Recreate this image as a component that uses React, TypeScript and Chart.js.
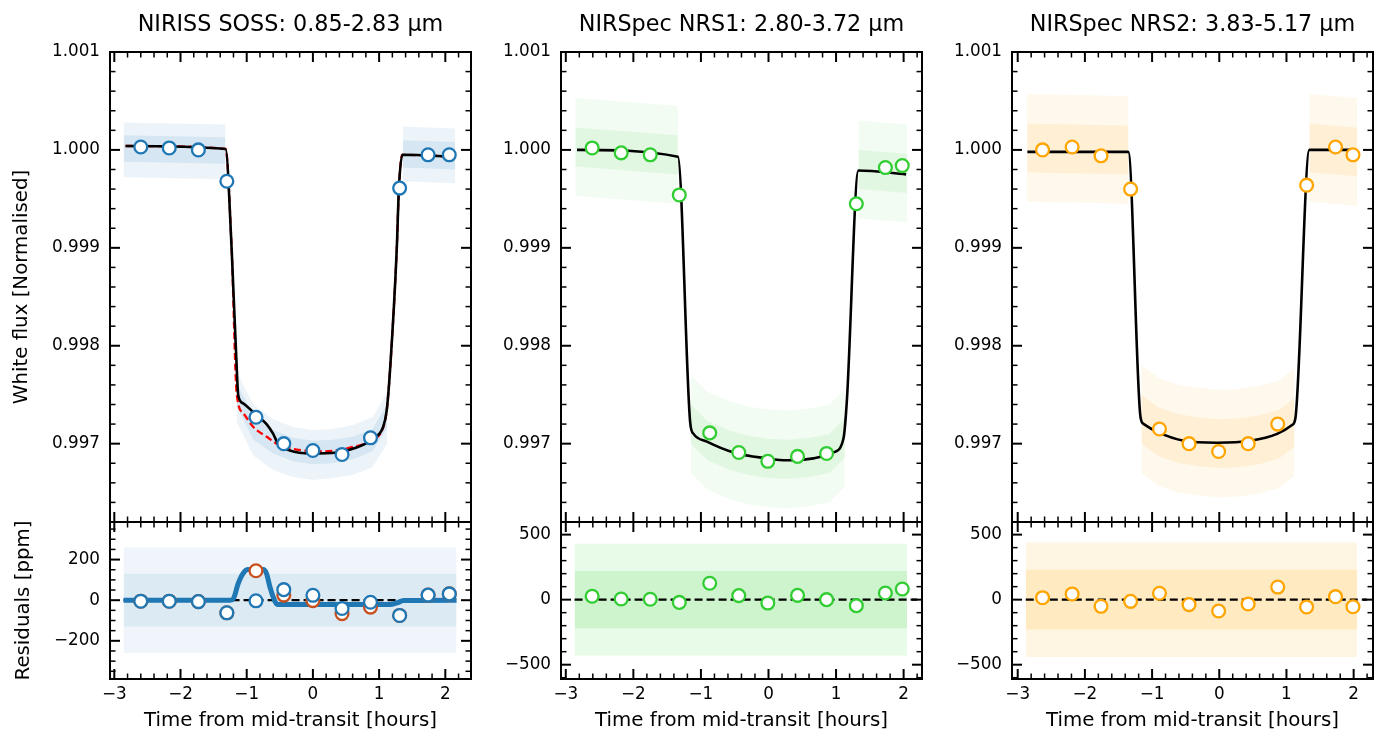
import React, { useEffect, useRef } from "react";
import { Chart, registerables } from "chart.js";

Chart.register(...registerables);

const FONT_FAMILY = '"DejaVu Sans", "Liberation Sans", sans-serif';

// ---------------- ticks & labels ----------------
const timeTicks = [-3, -2, -1, 0, 1, 2];
const fluxTicks = [0.997, 0.998, 0.999, 1.0, 1.001];
const sossResidTicks = [-200, 0, 200];
const nirspecResidTicks = [-500, 0, 500];

const panelTitles = [
  "NIRISS SOSS: 0.85-2.83 \u03bcm",
  "NIRSpec NRS1: 2.80-3.72 \u03bcm",
  "NIRSpec NRS2: 3.83-5.17 \u03bcm",
];
const fluxLabel = "White flux [Normalised]";
const residLabel = "Residuals [ppm]";
const timeLabel = "Time from mid-transit [hours]";

// ---------------- NIRISS SOSS ----------------
const sossBinTime = [-2.60, -2.17, -1.73, -1.30, -0.86, -0.44, 0.0, 0.44, 0.87, 1.31, 1.74, 2.06];
const sossBinFlux = [1.00003, 1.00002, 1.0, 0.99968, 0.99727, 0.99700, 0.99693, 0.99689, 0.99706, 0.99961, 0.99995, 0.99995];
const sossBinResid = [-5, -5, -7, -62, -3, 52, 24, -41, -10, -75, 25, 31];
const sossBinResidAlt = [-5, -5, -7, -62, 145, 25, -2, -66, -34, -75, 25, 31];

const sossModelTime = [-2.83, -1.32, -1.227, -1.14, -1.127, -1.05, -0.85, -0.70, -0.60, -0.52, -0.35, -0.04, 0.36, 0.66, 0.91, 1.06, 1.115, 1.165, 1.266, 1.30, 1.35, 2.15];
const sossModelFlux = [1.00004, 1.00001, 0.99898, 0.99761, 0.99749, 0.99741, 0.99729, 0.99720, 0.99710, 0.99699, 0.99693, 0.99690, 0.99691, 0.99696, 0.99705, 0.99717, 0.99734, 0.99775, 0.99898, 0.99962, 0.99995, 0.99993];
const sossAltModelTime = [-2.83, -1.32, -1.227, -1.151, -1.051, -0.90, -0.698, -0.497, -0.245, 0.157, 0.56, 0.863, 1.063, 1.115, 1.165, 1.266, 1.30, 1.35, 2.15];
const sossAltModelFlux = [1.00004, 1.00001, 0.99898, 0.99751, 0.99731, 0.99717, 0.99707, 0.99698, 0.99694, 0.99692, 0.99696, 0.99703, 0.99717, 0.99734, 0.99775, 0.99898, 0.99962, 0.99995, 0.99993];
const sossResidModelTime = [-2.86, -1.25, -1.20, -1.13, -1.05, -0.98, -0.75, -0.70, -0.65, -0.57, -0.53, 1.16, 1.27, 1.37, 2.17];
const sossResidModel = [0, 0, 8, 81, 134, 151, 151, 131, 66, -8, -21, -21, -13, -2, 0];
const sossZeroTime = [-2.86, 2.17];

const sossCloudTime = [-2.86, -1.32, null, -1.15, -0.9, -0.6, -0.3, 0, 0.3, 0.6, 0.9, 1.12, null, 1.36, 2.15];
const sossCloudOuterHi = [1.00028, 1.00026, null, 0.99773, 0.9974, 0.99725, 0.99717, 0.99714, 0.99715, 0.99719, 0.99727, 0.99752, null, 1.00024, 1.00022];
const sossCloudOuterLo = [0.99972, 0.9997, null, 0.99722, 0.99688, 0.99673, 0.99666, 0.99663, 0.99665, 0.99668, 0.99676, 0.997, null, 0.99968, 0.99966];
const sossCloudInnerHi = [1.00015, 1.00013, null, 0.99762, 0.99729, 0.99714, 0.99706, 0.99703, 0.99704, 0.99707, 0.99715, 0.9974, null, 1.0001, 1.00008];
const sossCloudInnerLo = [0.99988, 0.99986, null, 0.99738, 0.99704, 0.9969, 0.99682, 0.99679, 0.9968, 0.99684, 0.99692, 0.99716, null, 0.99982, 0.9998];
const sossResidCloudTime = [-2.86, 2.17];
const sossResidCloudOuterHi = [260, 260];
const sossResidCloudOuterLo = [-260, -260];
const sossResidCloudInnerHi = [130, 130];
const sossResidCloudInnerLo = [-130, -130];

// ---------------- NIRSpec NRS1 ----------------
const nrs1BinTime = [-2.61, -2.18, -1.75, -1.32, -0.87, -0.44, -0.01, 0.43, 0.86, 1.30, 1.73, 1.98];
const nrs1BinFlux = [1.00002, 0.99997, 0.99995, 0.99954, 0.99711, 0.99691, 0.99682, 0.99687, 0.9969, 0.99945, 0.99982, 0.99984];
const nrs1BinResid = [26, 5, 3, -21, 126, 31, -26, 33, 0, -46, 51, 82];
const nrs1ModelTime = [-2.834, -1.34, -1.158, -1.109, -0.911, -0.518, -0.024, 0.272, 0.666, 0.962, 1.109, 1.16, 1.331, 2.037];
const nrs1ModelFlux = [1.0, 0.99993, 0.99721, 0.9971, 0.99702, 0.99691, 0.99685, 0.99683, 0.99685, 0.99691, 0.99705, 0.99744, 0.99979, 0.99975];
const nrs1ZeroTime = [-2.87, 2.2];

const nrs1CloudTime = [-2.86, -1.34, null, -1.15, -0.9, -0.6, -0.3, 0, 0.3, 0.6, 0.9, 1.13, null, 1.33, 2.05];
const nrs1CloudOuterHi = [1.00053, 1.00045, null, 0.9977, 0.99753, 0.99744, 0.99738, 0.99735, 0.99734, 0.99736, 0.9974, 0.99756, null, 1.0003, 1.00026];
const nrs1CloudOuterLo = [0.99953, 0.99945, null, 0.9967, 0.99653, 0.99644, 0.99638, 0.99635, 0.99634, 0.99636, 0.9964, 0.99656, null, 0.9993, 0.99926];
const nrs1CloudInnerHi = [1.00023, 1.00015, null, 0.9974, 0.99723, 0.99714, 0.99708, 0.99705, 0.99704, 0.99706, 0.9971, 0.99726, null, 1.0, 0.99996];
const nrs1CloudInnerLo = [0.99983, 0.99975, null, 0.997, 0.99683, 0.99674, 0.99668, 0.99665, 0.99664, 0.99666, 0.9967, 0.99686, null, 0.9996, 0.99956];
const nrs1ResidCloudTime = [-2.87, 2.05];
const nrs1ResidCloudOuterHi = [430, 430];
const nrs1ResidCloudOuterLo = [-430, -430];
const nrs1ResidCloudInnerHi = [220, 220];
const nrs1ResidCloudInnerLo = [-220, -220];

// ---------------- NIRSpec NRS2 ----------------
const nrs2BinTime = [-2.63, -2.19, -1.76, -1.32, -0.89, -0.45, -0.01, 0.43, 0.87, 1.30, 1.73, 1.99];
const nrs2BinFlux = [1.0, 1.00003, 0.99994, 0.9996, 0.99715, 0.997, 0.99692, 0.997, 0.9972, 0.99964, 1.00003, 0.99995];
const nrs2BinResid = [15, 44, -51, -13, 49, -38, -87, -33, 97, -56, 23, -54];
const nrs2ModelTime = [-2.856, -1.354, -1.172, -1.123, -0.923, -0.528, -0.031, 0.464, 0.861, 1.084, 1.133, 1.341, 2.025];
const nrs2ModelFlux = [0.99998, 0.99998, 0.99727, 0.9972, 0.99712, 0.99703, 0.99701, 0.99703, 0.9971, 0.99719, 0.99726, 1.0, 1.0];
const nrs2ZeroTime = [-2.88, 2.2];

const nrs2CloudTime = [-2.86, -1.35, null, -1.16, -0.9, -0.6, -0.3, 0, 0.3, 0.6, 0.9, 1.12, null, 1.34, 2.05];
const nrs2CloudOuterHi = [1.00057, 1.00055, null, 0.9978, 0.99767, 0.9976, 0.99757, 0.99755, 0.99756, 0.99759, 0.99765, 0.99777, null, 1.00057, 1.00053];
const nrs2CloudOuterLo = [0.99947, 0.99945, null, 0.9967, 0.99657, 0.9965, 0.99647, 0.99645, 0.99646, 0.99649, 0.99655, 0.99667, null, 0.99947, 0.99943];
const nrs2CloudInnerHi = [1.00027, 1.00025, null, 0.9975, 0.99737, 0.9973, 0.99727, 0.99725, 0.99726, 0.99729, 0.99735, 0.99747, null, 1.00027, 1.00023];
const nrs2CloudInnerLo = [0.99977, 0.99975, null, 0.997, 0.99687, 0.9968, 0.99677, 0.99675, 0.99676, 0.99679, 0.99685, 0.99697, null, 0.99977, 0.99973];
const nrs2ResidCloudTime = [-2.88, 2.05];
const nrs2ResidCloudOuterHi = [440, 440];
const nrs2ResidCloudOuterLo = [-440, -440];
const nrs2ResidCloudInnerHi = [230, 230];
const nrs2ResidCloudInnerLo = [-230, -230];

// ---------------- styling ----------------
const SOSS = "#1f77b4";
const SOSS_ALT = "#c8501e";
const NRS1 = "#32cd32";
const NRS2 = "#ffa500";

const tickFont = { family: FONT_FAMILY, size: 16.8 };
const labelFont = { family: FONT_FAMILY, size: 19.8 };
const titleFont = { family: FONT_FAMILY, size: 22.3, weight: "normal" as const };

const plotLefts = [110, 561, 1012];
const AXIS_W = 110;
const PAD_R = 30;
const PLOT_W = 361;
const xRanges = [
  [-3.065, 2.388],
  [-3.071, 2.272],
  [-3.085, 2.288],
];
const fluxRange = [0.9962, 1.001];
const residRanges = [
  [-388, 385],
  [-610, 597],
  [-610, 597],
];

const toPts = (xs: any[], ys: any[]) => xs.map((x, i) => ({ x, y: ys[i] }));

function bandDatasets(xs: any[], lo: any[], hi: any[], color: string) {
  const out: any[] = [];
  let seg: number[] = [];
  const flush = () => {
    if (seg.length) {
      out.push({
        data: seg.map((i) => ({ x: xs[i], y: hi[i] })),
        borderColor: "transparent",
        borderWidth: 0,
        pointRadius: 0,
        fill: false,
        order: 20,
      });
      out.push({
        data: seg.map((i) => ({ x: xs[i], y: lo[i] })),
        borderColor: "transparent",
        borderWidth: 0,
        pointRadius: 0,
        fill: "-1",
        backgroundColor: color,
        order: 20,
      });
    }
    seg = [];
  };
  xs.forEach((x, i) => {
    if (x === null) flush();
    else seg.push(i);
  });
  flush();
  return out;
}

function lineDs(xs: number[], ys: number[], color: string, width: number, order: number, dash: number[] = []) {
  return {
    data: toPts(xs, ys),
    borderColor: color,
    borderWidth: width,
    borderDash: dash,
    pointRadius: 0,
    fill: false,
    cubicInterpolationMode: "monotone",
    order,
  };
}

function markerDs(xs: number[], ys: number[], color: string, order: number) {
  return {
    data: toPts(xs, ys),
    showLine: false,
    pointRadius: 6.4,
    pointBorderWidth: 2.3,
    pointBackgroundColor: "#ffffff",
    pointBorderColor: color,
    fill: false,
    order,
  };
}

const framePlugin = {
  id: "frame",
  afterDatasetsDraw(chart: any, _args: any, opts: any) {
    const { ctx, chartArea: a } = chart;
    const xs = chart.scales.x;
    const ys = chart.scales.y;
    ctx.save();
    ctx.strokeStyle = "#000";
    const seg = (x1: number, y1: number, x2: number, y2: number, w: number) => {
      ctx.lineWidth = w;
      ctx.beginPath();
      ctx.moveTo(x1, y1);
      ctx.lineTo(x2, y2);
      ctx.stroke();
    };
    const minors = (min: number, max: number, step: number, majors: number[]) => {
      const r: number[] = [];
      for (let i = Math.ceil(min / step - 1e-9); i <= Math.floor(max / step + 1e-9); i++) {
        const v = i * step;
        if (!majors.some((m) => Math.abs(m - v) < step / 10)) r.push(v);
      }
      return r;
    };
    const drawX = (vals: number[], len: number, w: number) =>
      vals.forEach((v) => {
        const p = xs.getPixelForValue(v);
        if (p < a.left + 0.5 || p > a.right - 0.5) return;
        seg(p, a.bottom, p, a.bottom - len, w);
        seg(p, a.top, p, a.top + len, w);
      });
    const drawY = (vals: number[], len: number, w: number) =>
      vals.forEach((v) => {
        const p = ys.getPixelForValue(v);
        if (p < a.top + 0.5 || p > a.bottom - 0.5) return;
        seg(a.left, p, a.left + len, p, w);
        seg(a.right, p, a.right - len, p, w);
      });
    drawX(opts.xMajor, 10, 2);
    drawX(minors(xs.min, xs.max, opts.xMinor, opts.xMajor), 5.5, 1.5);
    drawY(opts.yMajor, 10, 2);
    drawY(minors(ys.min, ys.max, opts.yMinor, opts.yMajor), 5.5, 1.5);
    ctx.lineWidth = 2;
    ctx.strokeRect(a.left, a.top, a.right - a.left, a.bottom - a.top);
    ctx.restore();
  },
};

const minusFmt = (v: number) => String(v).replace("-", "\u2212");

function makeChart(canvas: HTMLCanvasElement, p: any) {
  return new Chart(canvas, {
    type: "line",
    data: { datasets: p.datasets },
    options: {
      responsive: false,
      animation: false,
      events: [],
      layout: { padding: { top: p.padTop, bottom: p.padBottom, left: 0, right: PAD_R } },
      elements: { point: { radius: 0 } },
      plugins: {
        legend: { display: false },
        tooltip: { enabled: false },
        title: p.title
          ? {
              display: true,
              text: p.title,
              fullSize: false,
              color: "#000",
              font: titleFont,
              padding: { top: 11.5, bottom: 13.74 },
            }
          : { display: false },
        frame: { xMajor: timeTicks, xMinor: 0.2, yMajor: p.yTicks, yMinor: p.yMinor },
      } as any,
      scales: {
        x: {
          type: "linear",
          min: p.xMin,
          max: p.xMax,
          bounds: "data",
          display: p.showX,
          grid: { display: false, drawTicks: false },
          border: { display: false },
          ticks: { font: tickFont, color: "#000", padding: 6, callback: (v: any) => minusFmt(v) },
          afterBuildTicks: (s: any) => {
            s.ticks = timeTicks.map((v) => ({ value: v }));
          },
          afterFit: (s: any) => {
            s.height = p.showX ? 54 : 0;
          },
          title: {
            display: !!p.showX,
            text: timeLabel,
            font: labelFont,
            color: "#000",
            padding: { top: 0, bottom: 0 },
          },
        },
        y: {
          type: "linear",
          min: p.yMin,
          max: p.yMax,
          bounds: "data",
          grid: { display: false, drawTicks: false },
          border: { display: false },
          ticks: { font: tickFont, color: "#000", padding: 10, callback: p.yFmt },
          afterBuildTicks: (s: any) => {
            s.ticks = p.yTicks.map((v: number) => ({ value: v }));
          },
          afterFit: (s: any) => {
            s.width = AXIS_W;
          },
          title: {
            display: !!p.yTitle,
            text: p.yTitle || "",
            font: labelFont,
            color: "#000",
            padding: { top: p.yTitlePad || 0, bottom: 0 },
          },
        },
      } as any,
    } as any,
    plugins: [framePlugin as any],
  });
}

const fluxFmt = (v: any) => Number(v).toFixed(3);
const residFmt = (v: any) => minusFmt(Math.round(Number(v)));

export default function App() {
  const r0 = useRef<HTMLCanvasElement>(null);
  const r1 = useRef<HTMLCanvasElement>(null);
  const r2 = useRef<HTMLCanvasElement>(null);
  const r3 = useRef<HTMLCanvasElement>(null);
  const r4 = useRef<HTMLCanvasElement>(null);
  const r5 = useRef<HTMLCanvasElement>(null);
  const topRefs = [r0, r1, r2];
  const botRefs = [r3, r4, r5];

  useEffect(() => {
    const topSets = [
      [
        ...bandDatasets(sossCloudTime, sossCloudOuterLo, sossCloudOuterHi, "rgba(31,119,180,0.08)"),
        ...bandDatasets(sossCloudTime, sossCloudInnerLo, sossCloudInnerHi, "rgba(31,119,180,0.11)"),
        lineDs(sossAltModelTime, sossAltModelFlux, "#ff0000", 2.3, 5, [7, 3.5]),
        lineDs(sossModelTime, sossModelFlux, "#000000", 2.6, 4),
        markerDs(sossBinTime, sossBinFlux, SOSS, 1),
      ],
      [
        ...bandDatasets(nrs1CloudTime, nrs1CloudOuterLo, nrs1CloudOuterHi, "rgba(50,205,50,0.06)"),
        ...bandDatasets(nrs1CloudTime, nrs1CloudInnerLo, nrs1CloudInnerHi, "rgba(50,205,50,0.09)"),
        lineDs(nrs1ModelTime, nrs1ModelFlux, "#000000", 2.6, 4),
        markerDs(nrs1BinTime, nrs1BinFlux, NRS1, 1),
      ],
      [
        ...bandDatasets(nrs2CloudTime, nrs2CloudOuterLo, nrs2CloudOuterHi, "rgba(255,165,0,0.07)"),
        ...bandDatasets(nrs2CloudTime, nrs2CloudInnerLo, nrs2CloudInnerHi, "rgba(255,165,0,0.10)"),
        lineDs(nrs2ModelTime, nrs2ModelFlux, "#000000", 2.6, 4),
        markerDs(nrs2BinTime, nrs2BinFlux, NRS2, 1),
      ],
    ];
    const botSets = [
      [
        ...bandDatasets(sossResidCloudTime, sossResidCloudOuterLo, sossResidCloudOuterHi, "rgba(31,119,180,0.07)"),
        ...bandDatasets(sossResidCloudTime, sossResidCloudInnerLo, sossResidCloudInnerHi, "rgba(31,119,180,0.09)"),
        lineDs(sossZeroTime, sossZeroTime.map(() => 0), "#000000", 2.2, 6, [8, 4]),
        lineDs(sossResidModelTime, sossResidModel, SOSS, 5, 3),
        markerDs(sossBinTime, sossBinResidAlt, SOSS_ALT, 2),
        markerDs(sossBinTime, sossBinResid, SOSS, 1),
      ],
      [
        ...bandDatasets(nrs1ResidCloudTime, nrs1ResidCloudOuterLo, nrs1ResidCloudOuterHi, "rgba(50,205,50,0.11)"),
        ...bandDatasets(nrs1ResidCloudTime, nrs1ResidCloudInnerLo, nrs1ResidCloudInnerHi, "rgba(50,205,50,0.15)"),
        lineDs(nrs1ZeroTime, nrs1ZeroTime.map(() => 0), "#000000", 2.2, 6, [8, 4]),
        markerDs(nrs1BinTime, nrs1BinResid, NRS1, 1),
      ],
      [
        ...bandDatasets(nrs2ResidCloudTime, nrs2ResidCloudOuterLo, nrs2ResidCloudOuterHi, "rgba(255,165,0,0.11)"),
        ...bandDatasets(nrs2ResidCloudTime, nrs2ResidCloudInnerLo, nrs2ResidCloudInnerHi, "rgba(255,165,0,0.15)"),
        lineDs(nrs2ZeroTime, nrs2ZeroTime.map(() => 0), "#000000", 2.2, 6, [8, 4]),
        markerDs(nrs2BinTime, nrs2BinResid, NRS2, 1),
      ],
    ];
    const residTickSets = [sossResidTicks, nirspecResidTicks, nirspecResidTicks];
    const residMinor = [50, 100, 100];

    const charts: Chart[] = [];
    for (let i = 0; i < 3; i++) {
      charts.push(
        makeChart(topRefs[i].current as HTMLCanvasElement, {
          datasets: topSets[i],
          xMin: xRanges[i][0],
          xMax: xRanges[i][1],
          yMin: fluxRange[0],
          yMax: fluxRange[1],
          yTicks: fluxTicks,
          yMinor: 0.0002,
          yFmt: fluxFmt,
          showX: false,
          title: panelTitles[i],
          yTitle: i === 0 ? fluxLabel : null,
          yTitlePad: 10,
          padTop: 0,
          padBottom: 30,
        })
      );
      charts.push(
        makeChart(botRefs[i].current as HTMLCanvasElement, {
          datasets: botSets[i],
          xMin: xRanges[i][0],
          xMax: xRanges[i][1],
          yMin: residRanges[i][0],
          yMax: residRanges[i][1],
          yTicks: residTickSets[i],
          yMinor: residMinor[i],
          yFmt: residFmt,
          showX: true,
          title: null,
          yTitle: i === 0 ? residLabel : null,
          yTitlePad: 12,
          padTop: 30,
          padBottom: 0,
        })
      );
    }
    return () => charts.forEach((c) => c.destroy());
  }, []);

  const W = AXIS_W + PLOT_W + PAD_R;
  return (
    <div
      style={{
        position: "fixed",
        left: 0,
        top: 0,
        width: 1384,
        height: 733,
        background: "#ffffff",
        overflow: "hidden",
      }}
    >
      {[0, 1, 2].map((i) => (
        <React.Fragment key={i}>
          <canvas
            ref={topRefs[i]}
            width={W}
            height={552}
            style={{ position: "absolute", left: plotLefts[i] - AXIS_W, top: 0, width: W, height: 552 }}
          />
          <canvas
            ref={botRefs[i]}
            width={W}
            height={241}
            style={{ position: "absolute", left: plotLefts[i] - AXIS_W, top: 492, width: W, height: 241 }}
          />
        </React.Fragment>
      ))}
    </div>
  );
}
